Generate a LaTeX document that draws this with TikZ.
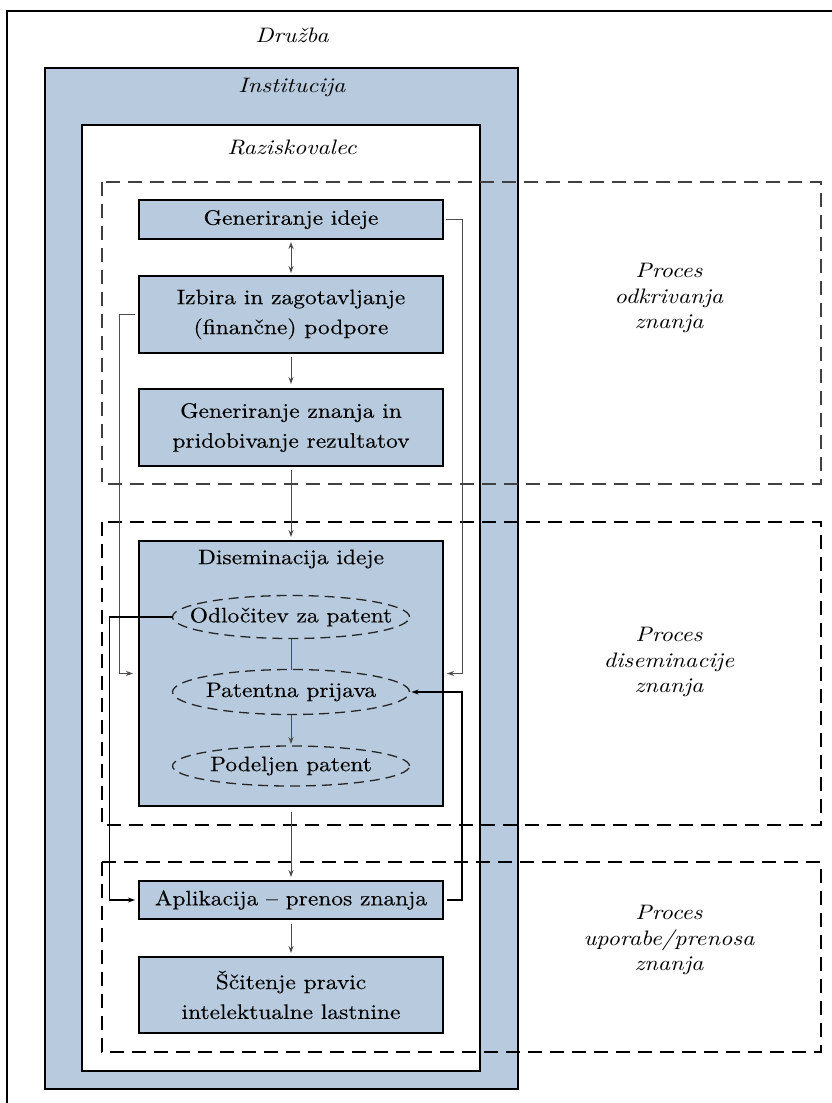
\documentclass[tikz,border=0pt]{standalone}
\usepackage{fontspec}
\setmainfont{lmroman10-regular.otf}[ItalicFont=lmroman10-italic.otf, BoldFont=lmroman10-bold.otf, FakeStretch=1.15]
\newfontfamily\boxfont{lmroman10-regular.otf}[FakeStretch=1.12, FakeBold=0.25]
\usetikzlibrary{shapes.geometric,arrows.meta,calc}
\definecolor{boxblue}{RGB}{184,203,222}
\begin{document}
\begin{tikzpicture}[x=1bp,y=-1bp,
  every node/.style={inner sep=0pt, outer sep=0pt},
  lbl/.style={font=\fontsize{21}{26}\selectfont\itshape, align=center},
  procbox/.style={draw=black, fill=boxblue, line width=1.3bp, minimum width=304bp,
     font=\boxfont\fontsize{21}{30}\selectfont, align=center},
  oval/.style={ellipse, draw=black!85, dash pattern=on 10bp off 6bp, line width=1.3bp,
     inner xsep=-30bp, inner ysep=0pt,
     minimum width=237bp, font=\boxfont\fontsize{21}{30}\selectfont},
  frame/.style={draw=black, line width=1.5bp},
  region/.style={draw=black, line width=1.3bp, dash pattern=on 14bp off 8bp},
  conn/.style={draw=black!70, line width=1bp, -{Stealth[length=7bp,width=5bp]}},
  connplain/.style={draw=black!70, line width=1bp},
  thickconn/.style={draw=black, line width=1.7bp, -{Stealth[length=7bp,width=5bp]}}
]
\useasboundingbox (0,0) rectangle (832,1103);
\clip (0,0) rectangle (832,1103);

% nested frames
\draw[frame] (7,11) rectangle (840,1110);
\draw[frame, fill=boxblue] (45,68) rectangle (518,1089);
\draw[frame, fill=white] (82,125) rectangle (480,1071);

\node[lbl] (druzba) at (292,35) {Družba};
\node[lbl] (inst) at (292,87) {Institucija};
\node[lbl] (razi) at (292,147) {Raziskovalec};

% process regions
\draw[region, line width=2bp, draw=black!75] (102,182) rectangle (821,484);
\draw[region] (102,522) rectangle (821,825);
\draw[region] (102,862) rectangle (821,1052);

\node[lbl] (p1) at (669,298) {Proces\\odkrivanja\\znanja};
\node[lbl] (p2) at (669,662) {Proces\\diseminacije\\znanja};
\node[lbl] (p3) at (669,940) {Proces\\uporabe/prenosa\\znanja};

% process boxes
\node[procbox, minimum height=39bp] (gi) at (291,219.5) {Generiranje ideje};
\node[procbox, minimum height=77bp] (izb) at (291,314.5) {Izbira in zagotavljanje\\(finančne) podpore};
\node[procbox, minimum height=77bp] (gz) at (291,427.5) {Generiranje znanja in\\pridobivanje rezultatov};
\node[procbox, minimum height=265bp] (dis) at (291,673.5) {};
\node[font=\boxfont\fontsize{21}{30}\selectfont] (distxt) at (291,559) {Diseminacija ideje};
\node[oval, minimum height=43bp] (e1) at (291,617) {Odločitev za patent};
\node[oval, minimum height=45bp] (e2) at (291,692) {Patentna prijava};
\node[oval, minimum height=40bp] (e3) at (291,766) {Podeljen patent};
\node[procbox, minimum height=38bp] (apl) at (291,900) {Aplikacija – prenos znanja};
\node[procbox, minimum height=76bp] (sci) at (291,995) {Ščitenje pravic\\intelektualne lastnine};

% vertical flow
\draw[conn, {Stealth[length=7bp,width=5bp]}-{Stealth[length=7bp,width=5bp]}, shorten <=3bp, shorten >=3bp] (gi) -- (izb);
\draw[conn, shorten <=4bp, shorten >=5bp] (izb) -- (gz);
\draw[conn, shorten <=4bp, shorten >=4bp] (gz) -- (dis);
\draw[connplain] (e1) -- (e2);
\draw[conn, shorten >=2bp] (e2) -- (e3);
\draw[conn, shorten <=6bp, shorten >=4bp] (dis) -- (apl);
\draw[conn, shorten <=5bp, shorten >=4bp] (apl) -- (sci);

% loops
\draw[conn] ([xshift=3bp]gi.east) -- ++(16,0) |- ([xshift=4bp]dis.east);
\draw[conn] ([xshift=-4bp]izb.west) -- ++(-15,0) |- ([xshift=-6bp]dis.west);
\draw[thickconn] (e1.west) -- ++(-63,0) |- ([xshift=-4bp]apl.west);
\draw[thickconn] ([xshift=4bp]apl.east) -- ++(15,0) |- ([xshift=2bp]e2.east);
\end{tikzpicture}
\end{document}
